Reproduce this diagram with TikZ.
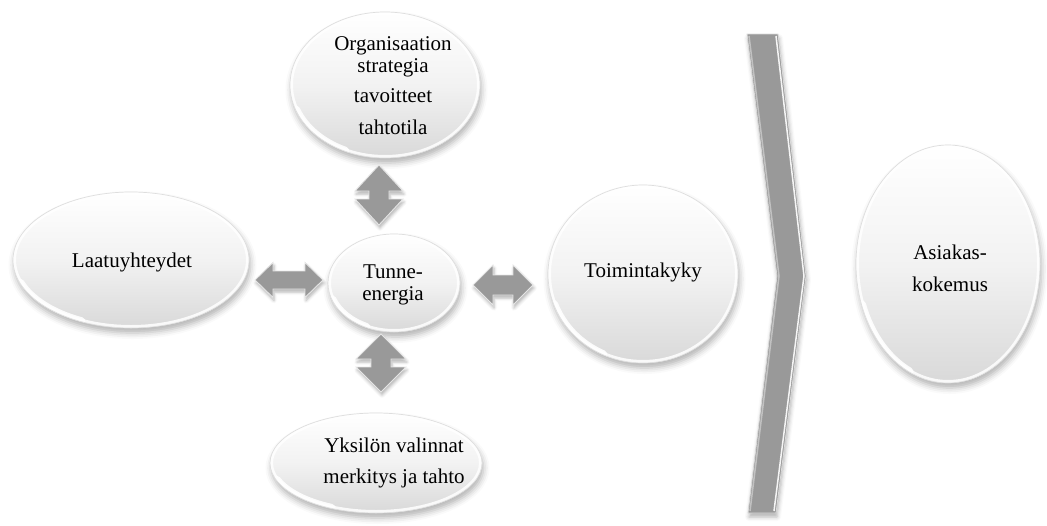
\documentclass[tikz,border=0pt]{standalone}
\usepackage{fontspec}
\setmainfont{Liberation Serif}
\usetikzlibrary{shapes.geometric,shadows.blur,calc}

\tikzset{
  % two-way block arrow: half length / half head width / half shaft width / head length
  pics/twoway/.style args={#1/#2/#3/#4}{code={
    \path[arrowbody]
      (-#1,0) -- (-#1+#4,-#2) -- (-#1+#4,-#3) -- (#1-#4,-#3) -- (#1-#4,-#2)
      -- (#1,0) -- (#1-#4,#2) -- (#1-#4,#3) -- (-#1+#4,#3) -- (-#1+#4,#2) -- cycle;
    \coordinate (-c) at (0,0);
  }},
  arrowbody/.style={fill=black!40, draw=black!10, line width=0.9pt,
    line join=miter,
    blur shadow={shadow xshift=1pt, shadow yshift=-3pt,
      shadow blur radius=3pt, shadow opacity=30}},
}

\begin{document}
\begin{tikzpicture}[x=1pt,y=-1pt,
  bubble/.style={ellipse, inner sep=0pt, outer sep=0pt,
    top color=white, bottom color=black!15, middle color=black!5,
    draw=black!13, line width=0.7pt,
    blur shadow={shadow xshift=1.5pt, shadow yshift=-5pt,
      shadow blur radius=6pt, shadow opacity=30},
    path picture={
      \draw[white, line width=6pt, opacity=0.85]
        let \p1=(path picture bounding box.north east),
            \p2=(path picture bounding box.center) in
        (\p2) ellipse ({\x1-\x2} and {\y1-\y2});
      \draw[white, line width=9pt, line cap=round, opacity=0.9]
        let \p1=(path picture bounding box.north east),
            \p2=(path picture bounding box.center) in
        ($(\p2)+({(\x1-\x2)*cos(200)},{(\y1-\y2)*sin(200)})$)
        arc[start angle=200, end angle=245,
            x radius={\x1-\x2}, y radius={\y1-\y2}];
    }},
  txt/.style={font=\fontsize{21}{22}\selectfont, align=center,
    inner sep=0pt, text=black},
]
\useasboundingbox (0,0) rectangle (1047,525);

% ellipses
\node[bubble, minimum width=190pt, minimum height=146pt] (org)   at (385,85)  {};
\node[bubble, minimum width=236pt, minimum height=136pt] (laatu) at (131,260) {};
\node[bubble, minimum width=132pt, minimum height=98pt]  (tunne) at (394,283) {};
\node[bubble, minimum width=212pt, minimum height=100pt] (yksi)  at (376,463) {};
\node[bubble, minimum width=190pt, minimum height=178pt] (toim)  at (643,274) {};
\node[bubble, minimum width=184pt, minimum height=238pt] (asia)  at (948,264) {};

% texts
\node[txt] (orgtxt) at (393,86)
  {Organisaation\\strategia\\[8pt]tavoitteet\\[10pt]tahtotila};
\node[txt] (laatutxt) at (132,262) {Laatuyhteydet};
\node[txt] (tunnetxt) at (393,285) {Tunne-\\energia};
\node[txt] (yksitxt)  at (394,463) {Yksilön valinnat\\[9pt]merkitys ja tahto};
\node[txt] (toimtxt)  at (643,272) {Toimintakyky};
\node[txt] (asiatxt)  at (950,268) {Asiakas-\\[10pt]kokemus};

% two-way block arrows round the centre
\pic (aL) at (289,280) {twoway=34/17.5/9/18};
\pic (aR) at (503,285) {twoway=30/20/10/20};
\pic[rotate=90] (aT) at (379,195) {twoway=30/24/10/26};
\pic[rotate=90] (aB) at (381,363) {twoway=29/25/10/25};

% tall chevron
\coordinate (c1) at (747,34);
\coordinate (c2) at (778,34);
\coordinate (c3) at (806,276);
\coordinate (c4) at (776,513);
\coordinate (c5) at (748,513);
\coordinate (c6) at (777,276);
\path[fill=black!40, draw=black!15, line width=0.8pt,
  blur shadow={shadow xshift=1pt, shadow yshift=-4pt,
    shadow blur radius=4pt, shadow opacity=30}]
  (c1) -- (c2) -- (c3) -- (c4) -- (c5) -- (c6) -- cycle;
\draw[white, line width=1.5pt, opacity=0.9]
  ($(c2)+(-2,2)$) -- ($(c3)+(-2,0)$) -- ($(c4)+(-2,-2)$);
\draw[black!20, line width=1.5pt, opacity=0.8]
  ($(c1)+(2,2)$) -- ($(c6)+(2,0)$) -- ($(c5)+(2,-2)$);
\end{tikzpicture}
\end{document}
